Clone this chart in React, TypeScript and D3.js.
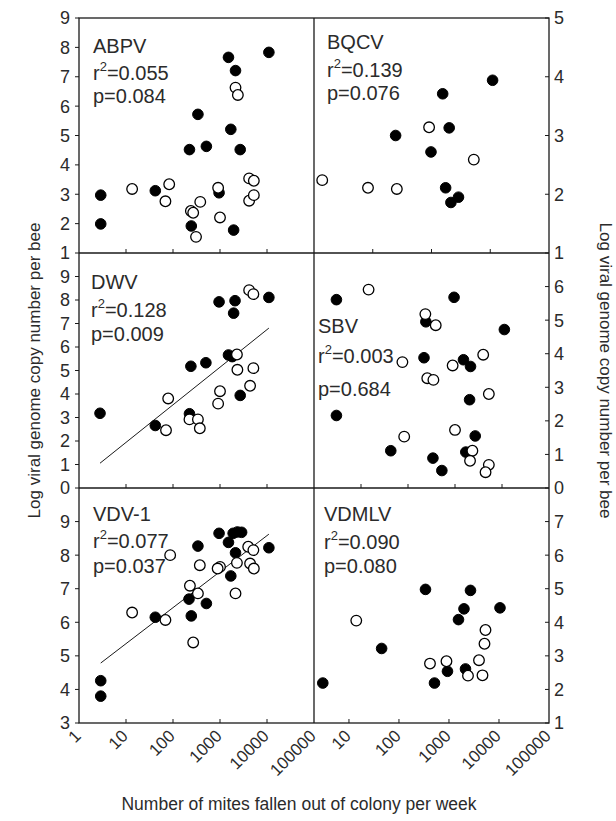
import React from "react";
import * as d3 from "d3";

// ---------- data (x: mites fallen per week, y: log viral genome copies per bee) ----------
const abpvFilled: [number, number][] = [
  [2.9, 2.97], [2.9, 1.99], [42, 3.12], [224, 4.52], [339, 5.72], [513, 4.63], [1514, 7.66],
  [2138, 7.21], [1698, 5.21], [2692, 4.52], [10965, 7.83], [955, 3.05], [245, 1.92], [1950, 1.78],
];
const abpvOpen: [number, number][] = [
  [13.5, 3.18], [83, 3.34], [69, 2.76], [240, 2.43], [269, 2.37], [380, 2.74], [309, 1.55],
  [912, 3.22], [1000, 2.21], [2138, 6.63], [2399, 6.38], [4169, 3.54], [5248, 3.46], [4169, 2.78], [5248, 2.97],
];
const bqcvFilled: [number, number][] = [
  [24.5, 3.0], [155, 3.71], [200, 3.13], [98, 2.72], [174, 2.11], [214, 1.86], [288, 1.95], [1096, 3.94],
];
const bqcvOpen: [number, number][] = [
  [1.38, 2.24], [8.3, 2.11], [25.7, 2.09], [91, 3.14], [525, 2.59],
];
const dwvFilled: [number, number][] = [
  [2.8, 3.18], [42, 2.66], [240, 5.18], [501, 5.33], [955, 7.92], [2089, 7.97], [1950, 7.44],
  [10965, 8.11], [1514, 5.66], [1820, 5.59], [2692, 3.94], [224, 3.16],
];
const dwvOpen: [number, number][] = [
  [79, 3.81], [71, 2.46], [224, 2.92], [339, 2.92], [372, 2.54], [1000, 4.12], [912, 3.59],
  [2344, 5.03], [2291, 5.68], [4169, 8.42], [5129, 8.25], [5129, 5.1], [4365, 4.35],
];
const sbvFilled: [number, number][] = [
  [3.0, 5.61], [3.0, 2.16], [955, 5.68], [240, 4.95], [219, 3.88], [1514, 3.82], [2138, 3.62],
  [2042, 2.63], [11220, 4.72], [2692, 1.55], [43, 1.11], [339, 0.89], [525, 0.52], [1698, 1.07],
];
const sbvOpen: [number, number][] = [
  [14.5, 5.91], [234, 5.18], [389, 4.85], [76, 3.75], [257, 3.27], [347, 3.22], [891, 3.65],
  [3981, 3.97], [5248, 2.8], [83, 1.53], [1000, 1.73], [2344, 1.11], [2089, 0.81], [5248, 0.69], [4467, 0.47],
];
const vdv1Filled: [number, number][] = [
  [955, 8.65], [1905, 8.65], [2344, 8.69], [2884, 8.68], [1514, 8.38], [339, 8.27], [2138, 8.07],
  [10965, 8.22], [1698, 7.38], [219, 6.69], [513, 6.56], [42, 6.15], [245, 6.19], [2.9, 4.26], [2.9, 3.8],
];
const vdv1Open: [number, number][] = [
  [87, 8.0], [372, 7.7], [1000, 7.65], [891, 7.6], [229, 7.09], [339, 6.86], [2138, 6.86],
  [2291, 7.77], [3981, 8.25], [5129, 8.15], [4365, 7.75], [5248, 7.6], [13.5, 6.29], [69, 6.07], [269, 5.4],
];
const vdmlvFilled: [number, number][] = [
  [3.0, 2.19], [45, 3.22], [513, 2.19], [933, 2.54], [2138, 2.61], [1549, 4.08], [339, 4.98],
  [2692, 4.95], [1995, 4.4], [10471, 4.43],
];
const vdmlvOpen: [number, number][] = [
  [14, 4.05], [417, 2.77], [891, 2.84], [2399, 2.41], [3981, 2.87], [4677, 2.42], [5129, 3.36], [5370, 3.77],
];

// regression fits: y = a + b * log10(x)
const dwvFit = [0.34, 1.6];
const vdv1Fit = [4.29, 1.073];

const virusNames = ["ABPV", "BQCV", "DWV", "SBV", "VDV-1", "VDMLV"];
const r2Values = ["0.055", "0.139", "0.128", "0.003", "0.077", "0.090"];
const pValues = ["0.084", "0.076", "0.009", "0.684", "0.037", "0.080"];

const xDomains: [number, number][] = [[1, 1e5], [1, 1e4], [1, 1e5], [1, 1e5], [1, 1e5], [2, 1e5]];
const xTickValues: number[][] = [
  [10, 100, 1000, 10000], [10, 100, 1000], [10, 100, 1000, 10000],
  [10, 100, 1000, 10000], [10, 100, 1000, 10000], [10, 100, 1000, 10000],
];
const yDomains: [number, number][] = [[1, 9], [1, 5], [0, 10], [0, 7], [3, 10], [1, 8]];
const yTickValues: number[][] = [
  [1, 2, 3, 4, 5, 6, 7, 8, 9], [1, 2, 3, 4, 5], [0, 1, 2, 3, 4, 5, 6, 7, 8, 9],
  [0, 1, 2, 3, 4, 5, 6], [3, 4, 5, 6, 7, 8, 9], [1, 2, 3, 4, 5, 6, 7],
];
const bottomLeftLabels = [1, 10, 100, 1000, 10000, 100000];
const bottomRightLabels = [10, 100, 1000, 10000, 100000];

const yTitle = "Log viral genome copy number per bee";
const xTitle = "Number of mites fallen out of colony per week";

// ---------- layout ----------
const W = 616, H = 821;
const COLS: [number, number][] = [[79, 314], [314, 549]];
const ROWS: [number, number][] = [[18, 253], [253, 488], [488, 723]];
const labelPos = [
  { x: 93, y: [53, 80, 103] },
  { x: 327, y: [49, 77, 100] },
  { x: 91, y: [289, 317, 341] },
  { x: 318, y: [333, 363, 396] },
  { x: 93, y: [521, 548, 573] },
  { x: 324, y: [521, 549, 573] },
];
const filledSets = [abpvFilled, bqcvFilled, dwvFilled, sbvFilled, vdv1Filled, vdmlvFilled];
const openSets = [abpvOpen, bqcvOpen, dwvOpen, sbvOpen, vdv1Open, vdmlvOpen];
const fits: (number[] | null)[] = [null, null, dwvFit, null, vdv1Fit, null];

const FONT = "'Liberation Sans', Arial, sans-serif";
const TXT = "#2b2b2b";
const LINE = "#1a1a1a";
const R = 5.3;

function Panel({ i }: { i: number }) {
  const col = i % 2;
  const row = Math.floor(i / 2);
  const [x0, x1] = COLS[col];
  const [y0, y1] = ROWS[row];
  const x = d3.scaleLog().domain(xDomains[i]).range([x0, x1]);
  const y = d3.scaleLinear().domain(yDomains[i]).range([y1, y0]);
  const fit = fits[i];
  const allX = [...filledSets[i], ...openSets[i]].map((d) => d[0]);
  const [fx0, fx1] = d3.extent(allX) as [number, number];
  const lp = labelPos[i];
  const tickLen = 4;
  return (
    <g>
      {xTickValues[i].map((t) => (
        <line key={"xt" + t} x1={x(t)} x2={x(t)} y1={y1} y2={y1 - tickLen} stroke={LINE} strokeWidth={1} />
      ))}
      {yTickValues[i].map((t) =>
        col === 0 ? (
          <g key={"yt" + t}>
            <line x1={x0 - tickLen} x2={x0} y1={y(t)} y2={y(t)} stroke={LINE} strokeWidth={1} />
            <text x={70} y={y(t)} dy="0.36em" textAnchor="end" fontSize={18} fill={TXT} fontFamily={FONT}>
              {t}
            </text>
          </g>
        ) : (
          <g key={"yt" + t}>
            <line x1={x1 - tickLen} x2={x1} y1={y(t)} y2={y(t)} stroke={LINE} strokeWidth={1} />
            <text x={554} y={y(t)} dy="0.36em" textAnchor="start" fontSize={18} fill={TXT} fontFamily={FONT}>
              {t}
            </text>
          </g>
        )
      )}
      {fit && (
        <line
          x1={x(fx0)}
          x2={x(fx1)}
          y1={y(fit[0] + fit[1] * Math.log10(fx0))}
          y2={y(fit[0] + fit[1] * Math.log10(fx1))}
          stroke={LINE}
          strokeWidth={1}
        />
      )}
      {filledSets[i].map((d, k) => (
        <circle key={"f" + k} cx={x(d[0])} cy={y(d[1])} r={R} fill="#000" stroke="#000" strokeWidth={1} />
      ))}
      {openSets[i].map((d, k) => (
        <circle key={"o" + k} cx={x(d[0])} cy={y(d[1])} r={R} fill="#fff" stroke="#000" strokeWidth={1.3} />
      ))}
      <g fontFamily={FONT} fontSize={20} fill={TXT}>
        <text x={lp.x} y={lp.y[0]}>{virusNames[i]}</text>
        <text x={lp.x} y={lp.y[1]}>
          <tspan>r</tspan>
          <tspan dy={-9} fontSize={13}>2</tspan>
          <tspan dy={9}>={r2Values[i]}</tspan>
        </text>
        <text x={lp.x} y={lp.y[2]}>p={pValues[i]}</text>
      </g>
    </g>
  );
}

export default function App() {
  const xl = d3.scaleLog().domain(xDomains[4]).range(COLS[0]);
  const xr = d3.scaleLog().domain(xDomains[5]).range(COLS[1]);
  const fmt = d3.format("d");
  const midY = (ROWS[0][0] + ROWS[2][1]) / 2;
  return (
    <svg
      width={W}
      height={H}
      viewBox={`0 0 ${W} ${H}`}
      style={{ position: "absolute", left: 0, top: 0, background: "#fff" }}
    >
      <rect x={0} y={0} width={W} height={H} fill="#fff" />
      <g stroke={LINE} strokeWidth={1.3} fill="none">
        <rect x={COLS[0][0]} y={ROWS[0][0]} width={COLS[1][1] - COLS[0][0]} height={ROWS[2][1] - ROWS[0][0]} />
        <line x1={COLS[0][1]} x2={COLS[0][1]} y1={ROWS[0][0]} y2={ROWS[2][1]} />
        <line x1={COLS[0][0]} x2={COLS[1][1]} y1={ROWS[0][1]} y2={ROWS[0][1]} />
        <line x1={COLS[0][0]} x2={COLS[1][1]} y1={ROWS[1][1]} y2={ROWS[1][1]} />
      </g>
      {virusNames.map((_, i) => (
        <Panel key={i} i={i} />
      ))}
      <g fontFamily={FONT} fontSize={17} fill={TXT}>
        {bottomLeftLabels.map((t) => (
          <text key={"bl" + t} transform={`translate(${xl(t) + 3},${737}) rotate(-45)`} textAnchor="end">
            {fmt(t)}
          </text>
        ))}
        {bottomRightLabels.map((t) => (
          <text key={"br" + t} transform={`translate(${xr(t) + 3},${737}) rotate(-45)`} textAnchor="end">
            {fmt(t)}
          </text>
        ))}
      </g>
      <g fontFamily={FONT} fontSize={17} fill={TXT}>
        <text transform={`translate(40,${midY}) rotate(-90)`} textAnchor="middle">
          {yTitle}
        </text>
        <text transform={`translate(600,${midY}) rotate(90)`} textAnchor="middle">
          {yTitle}
        </text>
        <text x={299} y={810} textAnchor="middle" fontSize={17.5}>
          {xTitle}
        </text>
      </g>
    </svg>
  );
}
